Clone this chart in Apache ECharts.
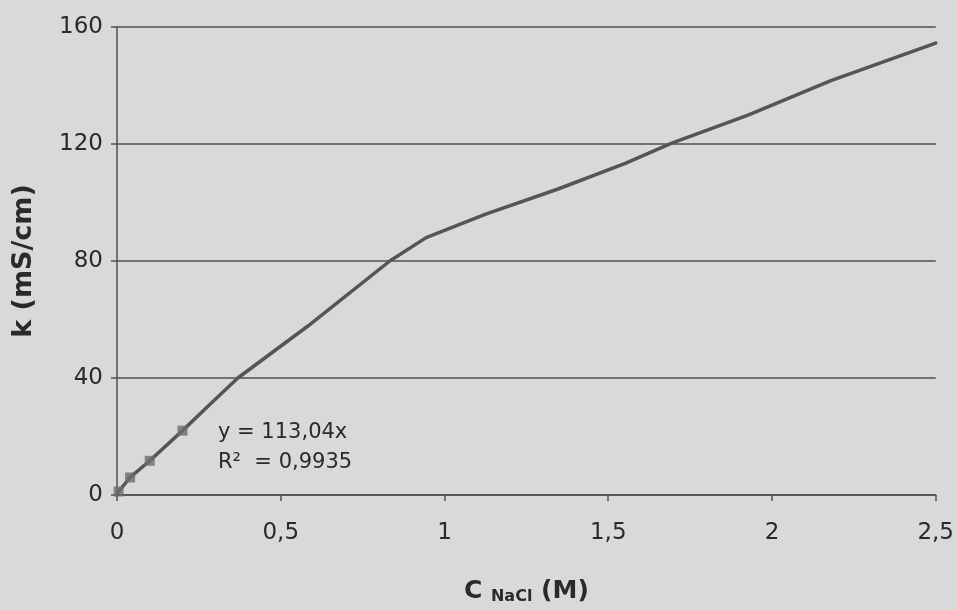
<!DOCTYPE html>
<html>
<head>
<meta charset="utf-8">
<script src="https://cdn.jsdelivr.net/npm/echarts@6/dist/echarts.min.js"></script>
<style>
html,body{margin:0;padding:0;background:#d9d9d9;}
#chart{width:957px;height:610px;}
</style>
</head>
<body>
<div id="chart"></div>
<script>
// Conductivity curve (C NaCl in M, k in mS/cm)
var curveX = [0, 0.005, 0.04, 0.1, 0.2, 0.285, 0.369, 0.581, 0.833, 0.944, 1.126, 1.349, 1.552, 1.694, 1.927, 2.18, 2.5];
var curveY = [0, 1.2, 6.0, 11.7, 22.0, 31.1, 40.0, 57.6, 80.0, 88.0, 96.0, 104.7, 113.4, 120.3, 129.9, 141.7, 154.5];
// Measured low-concentration points (fitted by the linear trendline)
var pointX = [0.005, 0.04, 0.1, 0.2];
var pointY = [1.2, 6.0, 11.7, 22.0];
var xTicks = [0, 0.5, 1, 1.5, 2, 2.5];
var yTicks = [0, 40, 80, 120, 160];
var eqLine1 = 'y = 113,04x';
var eqLine2 = 'R\u00B2  = 0,9935';

var curve = curveX.map(function(x, i){ return [x, curveY[i]]; });
var pts = pointX.map(function(x, i){ return [x, pointY[i]]; });

var chart = echarts.init(document.getElementById('chart'));
var axisCol = '#505050';
var txtCol = '#2a2a2a';
var font = 'DejaVu Sans';
chart.setOption({
  backgroundColor: '#d9d9d9',
  animation: false,
  grid: { left: 117, right: 21, top: 27, bottom: 113 },
  xAxis: {
    type: 'value', min: xTicks[0], max: xTicks[xTicks.length-1], interval: 0.5,
    axisLine: { show: true, lineStyle: { color: axisCol, width: 1.5 } },
    axisTick: { show: true, length: 6, lineStyle: { color: axisCol, width: 1.5 } },
    splitLine: { show: false },
    axisLabel: { color: txtCol, fontFamily: font, fontSize: 23, margin: 27,
      formatter: function(v){ return String(v).replace('.', ','); } },
    name: '{a|C }{s|NaCl}{a| (M)}',
    nameLocation: 'middle', nameGap: 82,
    nameTextStyle: { rich: {
      a: { fontFamily: font, fontWeight: 'bold', fontSize: 25, color: txtCol },
      s: { fontFamily: font, fontWeight: 'bold', fontSize: 16, color: txtCol, padding: [12,0,0,0] }
    } }
  },
  yAxis: {
    type: 'value', min: yTicks[0], max: yTicks[yTicks.length-1], interval: 40,
    axisLine: { show: true, lineStyle: { color: axisCol, width: 1.5 } },
    axisTick: { show: true, length: 6, lineStyle: { color: axisCol, width: 1.5 } },
    splitLine: { show: true, lineStyle: { color: axisCol, width: 1.5 } },
    axisLabel: { color: txtCol, fontFamily: font, fontSize: 23, margin: 14 },
    name: 'k (mS/cm)', nameLocation: 'middle', nameGap: 80,
    nameTextStyle: { fontFamily: font, fontWeight: 'bold', fontSize: 27, color: txtCol }
  },
  series: [
    { type: 'line', data: curve, showSymbol: false, smooth: false,
      lineStyle: { color: '#555555', width: 3.5, join: 'round', cap: 'round' }, z: 3 },
    { type: 'scatter', data: pts, symbol: 'rect', symbolSize: 10,
      itemStyle: { color: '#6b6b6b' }, z: 4 }
  ],
  graphic: [
    { type: 'text', left: 218, top: 422,
      style: { text: eqLine1, fontFamily: font, fontSize: 21, fill: txtCol } },
    { type: 'text', left: 218, top: 452,
      style: { text: eqLine2, fontFamily: font, fontSize: 21, fill: txtCol } }
  ]
});
</script>
</body>
</html>
